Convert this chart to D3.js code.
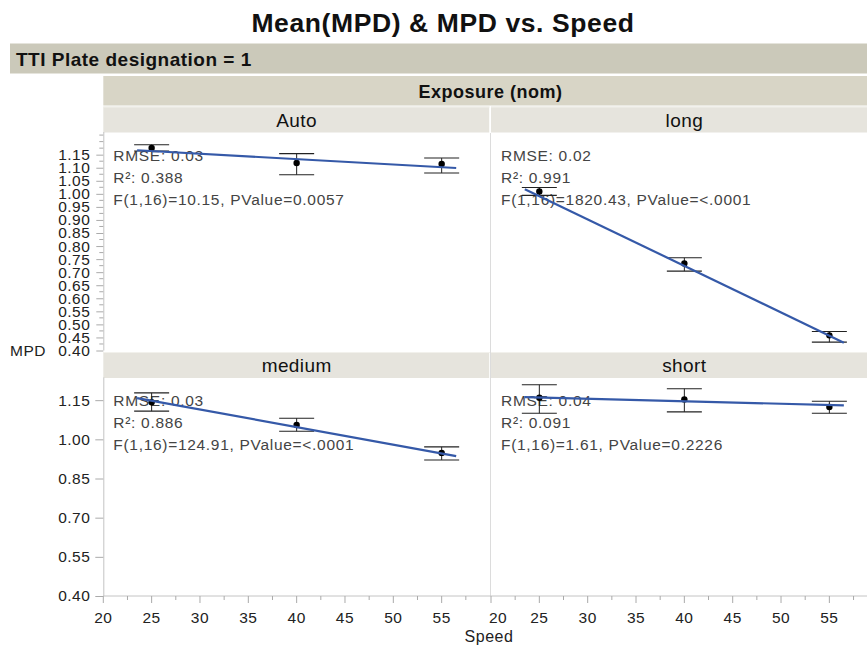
<!DOCTYPE html>
<html>
<head>
<meta charset="utf-8">
<script src="https://cdn.jsdelivr.net/npm/d3@7"></script>
<style>
  html, body { margin: 0; padding: 0; background: #fff; }
  svg { display: block; font-family: "Liberation Sans", Arial, Helvetica, sans-serif; }
</style>
</head>
<body>
<svg id="chart" width="867" height="648"></svg>
<script>
// Speeds at which MPD was measured
const speeds = [25, 40, 55];

// Mean MPD with lower / upper error-bar limits, one set per exposure
const autoMean = [1.176, 1.118, 1.114];
const autoLow  = [1.164, 1.073, 1.080];
const autoHigh = [1.188, 1.154, 1.137];

const longMean = [1.009, 0.733, 0.458];
const longLow  = [0.994, 0.704, 0.432];
const longHigh = [1.024, 0.755, 0.473];

const mediumMean = [1.142, 1.055, 0.948];
const mediumLow  = [1.108, 1.031, 0.921];
const mediumHigh = [1.178, 1.081, 0.971];

const shortMean = [1.159, 1.153, 1.124];
const shortLow  = [1.100, 1.105, 1.100];
const shortHigh = [1.209, 1.194, 1.146];

// Linear fit, evaluated at the ends of the speed range
const fitSpeeds = [23.5, 56.5];
const autoFit   = [1.167, 1.099];
const longFit   = [1.018, 0.430];
const mediumFit = [1.158, 0.936];
const shortFit  = [1.162, 1.130];

// Fit summaries
const autoStats   = ["RMSE: 0.03", "R²: 0.388", "F(1,16)=10.15, PValue=0.0057"];
const longStats   = ["RMSE: 0.02", "R²: 0.991", "F(1,16)=1820.43, PValue=<.0001"];
const mediumStats = ["RMSE: 0.03", "R²: 0.886", "F(1,16)=124.91, PValue=<.0001"];
const shortStats  = ["RMSE: 0.04", "R²: 0.091", "F(1,16)=1.61, PValue=0.2226"];

const exposures = ["Auto", "long", "medium", "short"];

// Axis ticks
const xTicks = [20, 25, 30, 35, 40, 45, 50, 55];
const xMinorTicks = [22.5, 27.5, 32.5, 37.5, 42.5, 47.5, 52.5, 57.5];
const yTicksTop = [0.40, 0.45, 0.50, 0.55, 0.60, 0.65, 0.70, 0.75, 0.80, 0.85, 0.90, 0.95, 1.00, 1.05, 1.10, 1.15];
const yTicksBottom = [0.40, 0.55, 0.70, 0.85, 1.00, 1.15];

const panels = [
  { name: exposures[0], mean: autoMean, low: autoLow, high: autoHigh, fit: autoFit, stats: autoStats, col: 0, row: 0 },
  { name: exposures[1], mean: longMean, low: longLow, high: longHigh, fit: longFit, stats: longStats, col: 1, row: 0 },
  { name: exposures[2], mean: mediumMean, low: mediumLow, high: mediumHigh, fit: mediumFit, stats: mediumStats, col: 0, row: 1 },
  { name: exposures[3], mean: shortMean, low: shortLow, high: shortHigh, fit: shortFit, stats: shortStats, col: 1, row: 1 }
];

const svg = d3.select("#chart");

// Layout
const colX = [103.3, 491];
const colW = 386.7;
const rowTop = [133, 378.5];
const rowH = 217.5;
const headerH = 26;

const xScales = colX.map(x0 => d3.scaleLinear().domain([20, 60]).range([x0, x0 + colW]));
const yScales = rowTop.map(y0 => d3.scaleLinear().domain([0.40, 1.233]).range([y0 + rowH, y0]));

const axisFont = 15.5;
const axisSpacing = 0.5;

// Title
svg.append("text")
  .attr("x", 443).attr("y", 32)
  .attr("text-anchor", "middle")
  .attr("font-size", 26.5).attr("font-weight", "bold").attr("fill", "#111")
  .attr("letter-spacing", 0.6)
  .text("Mean(MPD) & MPD vs. Speed");

// Group band
svg.append("rect").attr("x", 10).attr("y", 43.5).attr("width", 857).attr("height", 30).attr("fill", "#cbc9ba");
svg.append("text")
  .attr("x", 16).attr("y", 65.5)
  .attr("font-size", 19).attr("font-weight", "bold").attr("fill", "#111")
  .attr("letter-spacing", 0.5)
  .text("TTI Plate designation = 1");

// Exposure band
svg.append("rect").attr("x", colX[0]).attr("y", 76).attr("width", 867 - colX[0]).attr("height", 29.5).attr("fill", "#d8d5c6");
svg.append("text")
  .attr("x", (colX[0] + colX[1] + colW) / 2).attr("y", 97.5)
  .attr("text-anchor", "middle")
  .attr("font-size", 18).attr("font-weight", "bold").attr("fill", "#111")
  .attr("letter-spacing", 0.5)
  .text("Exposure (nom)");

// Panel headers
panels.forEach(p => {
  const x0 = colX[p.col];
  const y0 = rowTop[p.row] - headerH - 0.5;
  svg.append("rect")
    .attr("x", x0).attr("y", y0)
    .attr("width", colW - (p.col === 0 ? 0.8 : 0)).attr("height", headerH)
    .attr("fill", "#e6e4dd");
  svg.append("line")
    .attr("x1", x0).attr("x2", x0 + colW).attr("y1", y0 + 0.5).attr("y2", y0 + 0.5)
    .attr("stroke", "#f2f1ec").attr("stroke-width", 1);
  svg.append("text")
    .attr("x", x0 + colW / 2).attr("y", y0 + 20)
    .attr("text-anchor", "middle")
    .attr("font-size", 19).attr("fill", "#111")
    .attr("letter-spacing", 0.4)
    .text(p.name);
});

// Divider between the two columns
svg.append("line")
  .attr("x1", 490.5).attr("x2", 490.5).attr("y1", rowTop[0]).attr("y2", rowTop[1] + rowH)
  .attr("stroke", "#dcdcdc").attr("stroke-width", 1);

// Y axes
function drawYAxis(row, ticks, minor) {
  const y = yScales[row];
  const g = svg.append("g").attr("transform", `translate(${colX[0]},0)`);
  const axis = d3.axisLeft(y).tickValues(ticks).tickFormat(d3.format(".2f"))
    .tickSize(row === 0 ? 7 : 8).tickPadding(row === 0 ? 6 : 5);
  g.call(axis);
  g.select(".domain").attr("stroke", "#c4c4c4").attr("d", `M0.5,${rowTop[row] - 1}V${rowTop[row] + rowH}`);
  g.selectAll(".tick line").attr("stroke", "#aaa");
  g.selectAll(".tick text").attr("font-size", axisFont).attr("fill", "#222")
    .attr("letter-spacing", axisSpacing)
    .attr("font-family", "\"Liberation Sans\", Arial, sans-serif");
  if (minor) {
    g.selectAll(".minor").data(minor).enter().append("line")
      .attr("x1", -4).attr("x2", 0)
      .attr("y1", d => y(d)).attr("y2", d => y(d))
      .attr("stroke", "#aaa");
  }
}
const topMinor = d3.range(0.425, 1.23, 0.05);
topMinor.push(1.20);
drawYAxis(0, yTicksTop, topMinor);
drawYAxis(1, yTicksBottom, null);

// Y label
svg.append("text")
  .attr("x", 10).attr("y", 355.5)
  .attr("font-size", axisFont).attr("fill", "#222")
  .attr("letter-spacing", axisSpacing)
  .text("MPD");

// X axes (bottom row)
const axisY = rowTop[1] + rowH;
svg.append("line")
  .attr("x1", colX[0]).attr("x2", 867).attr("y1", axisY).attr("y2", axisY)
  .attr("stroke", "#c4c4c4");
xScales.forEach((x, ci) => {
  const g = svg.append("g");
  g.selectAll(".maj").data(xTicks).enter().append("line")
    .attr("x1", d => x(d)).attr("x2", d => x(d))
    .attr("y1", axisY).attr("y2", axisY + 7)
    .attr("stroke", "#aaa");
  g.selectAll(".min").data(xMinorTicks).enter().append("line")
    .attr("x1", d => x(d)).attr("x2", d => x(d))
    .attr("y1", axisY).attr("y2", axisY + 4)
    .attr("stroke", "#aaa");
  g.selectAll(".lbl").data(xTicks).enter().append("text")
    .attr("x", d => (ci === 1 && d === 20) ? x(d) + 7 : x(d))
    .attr("y", axisY + 27)
    .attr("text-anchor", "middle")
    .attr("font-size", axisFont).attr("fill", "#222")
    .attr("letter-spacing", axisSpacing)
    .text(d => d);
});

svg.append("text")
  .attr("x", 489).attr("y", 641.5)
  .attr("text-anchor", "middle")
  .attr("font-size", 16).attr("fill", "#222")
  .attr("letter-spacing", axisSpacing)
  .text("Speed");

// Panels
panels.forEach(p => {
  const x = xScales[p.col];
  const y = yScales[p.row];
  const y0 = rowTop[p.row];
  const g = svg.append("g");

  // Fit statistics
  g.selectAll(".stat").data(p.stats).enter().append("text")
    .attr("x", x(20) + 10)
    .attr("y", (d, i) => y0 + 27.5 + i * 22)
    .attr("font-size", 15.5).attr("fill", "#444")
    .attr("letter-spacing", 0.7)
    .text(d => d);

  // Error bars
  const cap = 17.5;
  speeds.forEach((s, i) => {
    const cx = x(s);
    g.append("line").attr("x1", cx).attr("x2", cx).attr("y1", y(p.low[i])).attr("y2", y(p.high[i]))
      .attr("stroke", "#222").attr("stroke-width", 1);
    [p.low[i], p.high[i]].forEach(v => {
      g.append("line").attr("x1", cx - cap).attr("x2", cx + cap).attr("y1", y(v)).attr("y2", y(v))
        .attr("stroke", "#222").attr("stroke-width", 1.1);
    });
  });

  // Means
  g.selectAll(".pt").data(speeds).enter().append("circle")
    .attr("cx", d => x(d)).attr("cy", (d, i) => y(p.mean[i]))
    .attr("r", 3.2).attr("fill", "#000");

  // Linear fit
  g.append("line")
    .attr("x1", x(fitSpeeds[0])).attr("y1", y(p.fit[0]))
    .attr("x2", x(fitSpeeds[1])).attr("y2", y(p.fit[1]))
    .attr("stroke", "#3559a8").attr("stroke-width", 2.2);
});
</script>
</body>
</html>
